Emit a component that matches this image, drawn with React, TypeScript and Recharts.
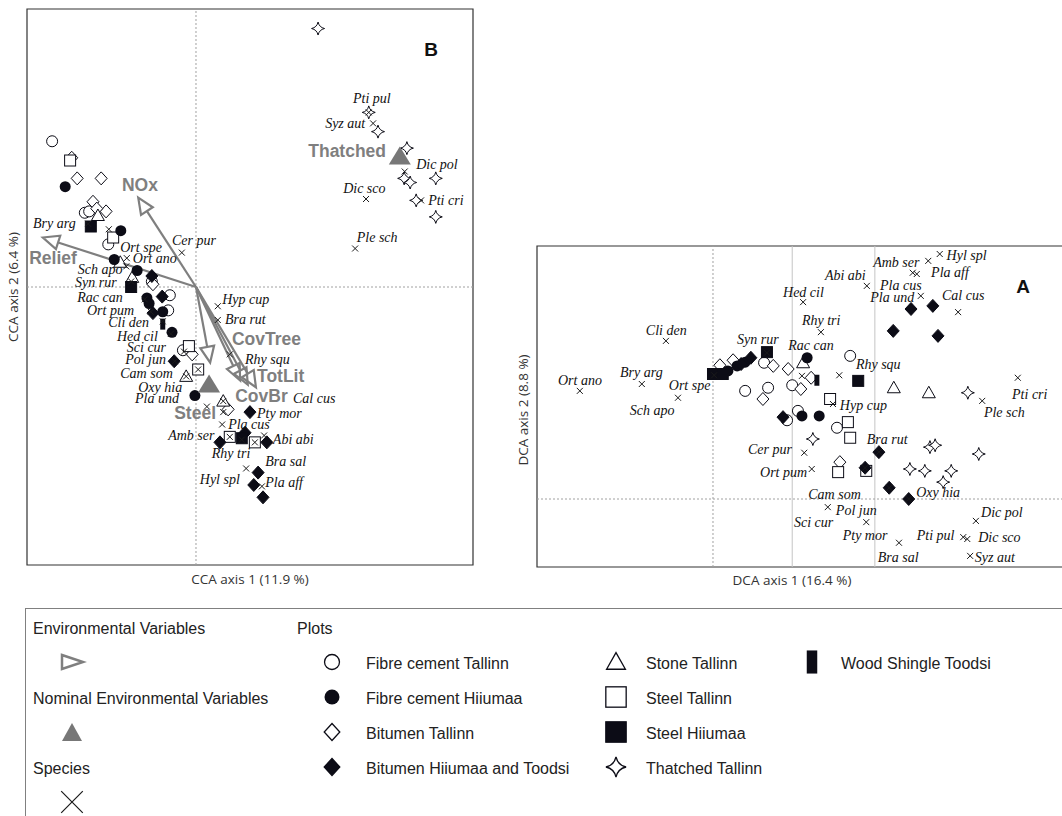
import React from "react";
import { ScatterChart, Scatter, XAxis, YAxis, ReferenceLine, ReferenceArea } from "recharts";

type Pt = [number, number];
type Sp = [string, number, number, number, number]; // name, x, y, label x, label y

const INK = "#0c0c16";
const GREY = "#7f7f7f";
const SERIF = '"Liberation Serif", "Times New Roman", serif';
const SANS = '"Liberation Sans", Arial, sans-serif';
const AXIS_FONT = '"Open Sans", "Noto Sans", sans-serif';

// ---------- B: CCA ----------
const ccaSpecies: Sp[] = [
  ["Bry arg", -1.98, 0.46, -2.99, 0.46],
  ["Ort spe", -1.6, 0.42, -1.39, 0.29],
  ["Ort ano", -1.27, 0.21, -1.16, 0.21],
  ["Cer pur", -0.26, 0.25, -0.44, 0.34],
  ["Sch apo", -1.28, 0.15, -2.17, 0.13],
  ["Syn rur", -1.19, 0.04, -2.22, 0.03],
  ["Rac can", -0.94, -0.09, -2.18, -0.08],
  ["Ort pum", -0.83, -0.18, -2.0, -0.17],
  ["Cli den", -0.61, -0.25, -1.61, -0.26],
  ["Hed cil", -0.46, -0.34, -1.45, -0.36],
  ["Sci cur", -0.22, -0.47, -1.27, -0.44],
  ["Pol jun", -0.39, -0.54, -1.3, -0.53],
  ["Cam som", 0.04, -0.6, -1.39, -0.63],
  ["Oxy hia", -0.18, -0.65, -1.06, -0.73],
  ["Pla und", 0.2, -0.87, -1.12, -0.81],
  ["Hyp cup", 0.4, -0.14, 0.48, -0.09],
  ["Bra rut", 0.4, -0.24, 0.53, -0.24],
  ["Rhy squ", 0.62, -0.49, 0.9, -0.53],
  ["Cal cus", 0.5, -0.83, 1.78, -0.81],
  ["Pty mor", 0.5, -0.91, 1.12, -0.92],
  ["Pla cus", 0.48, -1.0, 0.59, -1.0],
  ["Amb ser", 0.62, -1.09, -0.51, -1.08],
  ["Abi abi", 1.25, -1.08, 1.41, -1.11],
  ["Rhy tri", 0.84, -1.11, 0.29, -1.21],
  ["Bra sal", 1.08, -1.13, 1.27, -1.27],
  ["Hyl spl", 0.92, -1.32, 0.07, -1.4],
  ["Pla aff", 1.21, -1.45, 1.27, -1.42],
  ["Pti pul", 3.17, 1.27, 2.88, 1.37],
  ["Syz aut", 3.25, 1.19, 2.37, 1.19],
  ["Dic pol", 3.83, 0.84, 4.04, 0.89],
  ["Dic sco", 3.12, 0.64, 2.7, 0.72],
  ["Pti cri", 4.13, 0.63, 4.26, 0.63],
  ["Ple sch", 2.92, 0.28, 2.95, 0.36],
];

const ccaFibreTallinn: Pt[] = [[-2.64, 1.06], [-2.04, 0.54], [-1.96, 0.55], [-1.61, 0.31], [-0.81, 0.04], [-0.48, -0.06], [-0.51, -0.17], [-0.24, -0.46]];
const ccaFibreHiiumaa: Pt[] = [[-2.4, 0.73], [-1.38, 0.41], [-1.5, 0.2], [-1.08, 0.12], [-0.9, -0.08], [-0.86, -0.12], [-0.61, -0.18], [-0.44, -0.33], [-0.02, -0.79]];
const ccaBitumenTallinn: Pt[] = [[-2.28, 0.94], [-2.18, 0.79], [-1.74, 0.79], [-1.89, 0.62], [-1.65, 0.55], [-1.82, 0.57], [-0.79, 0.02], [-0.07, -0.49], [0.59, -0.89]];
const ccaBitumenHiiumaa: Pt[] = [[-0.81, 0.08], [-0.62, -0.07], [-0.79, -0.19], [-0.4, -0.54], [0.99, -0.91], [0.9, -1.06], [0.44, -1.13], [1.3, -1.13], [1.14, -1.35], [1.06, -1.44], [1.23, -1.53]];
const ccaStoneTallinn: Pt[] = [[-1.8, 0.52], [-1.39, 0.18], [-1.17, 0.07], [-0.18, -0.65], [0.5, -0.83]];
const ccaSteelTallinn: Pt[] = [[-2.31, 0.92], [-1.52, 0.36], [-0.13, -0.43], [0.04, -0.6], [0.62, -1.09], [1.08, -1.13]];
const ccaSteelHiiumaa: Pt[] = [[-1.93, 0.44], [-1.19, 0.0], [0.84, -1.1]];
const ccaThatchedTallinn: Pt[] = [[2.24, 1.88], [3.17, 1.27], [3.34, 1.13], [3.87, 1.01], [3.82, 0.79], [3.93, 0.76], [4.4, 0.79], [4.04, 0.63], [4.4, 0.51]];
const ccaWoodShingle: Pt[] = [[-0.61, -0.27]];

// environmental vectors: name, tip x, tip y, label x, label y
const ccaEnvVectors: Sp[] = [
  ["NOx", -1.06, 0.65, -1.36, 0.74],
  ["Relief", -2.81, 0.36, -3.06, 0.21],
  ["", 0.26, -0.55, 0, 0],
  ["CovTree", 0.81, -0.68, 0.66, -0.38],
  ["TotLit", 0.95, -0.71, 1.12, -0.65],
  ["CovBr", 1.1, -0.73, 0.72, -0.79],
];
const ccaNominal: Sp[] = [
  ["Steel", 0.24, -0.71, -0.4, -0.92],
  ["Thatched", 3.74, 0.95, 2.06, 0.99],
];

// ---------- A: DCA ----------
const dcaSpecies: Sp[] = [
  ["Cli den", -0.82, 2.53, -1.17, 2.7],
  ["Syn rur", 0.94, 2.34, 0.42, 2.56],
  ["Ort ano", -2.32, 1.73, -2.7, 1.9],
  ["Bry arg", -1.24, 1.84, -1.62, 2.02],
  ["Ort spe", 0.02, 1.98, -0.77, 1.81],
  ["Sch apo", -0.61, 1.62, -1.45, 1.42],
  ["Hyl spl", 3.95, 3.92, 4.07, 3.9],
  ["Amb ser", 3.75, 3.81, 2.79, 3.78],
  ["Pla aff", 3.55, 3.6, 3.8, 3.62],
  ["Pla cus", 3.48, 3.62, 2.91, 3.41],
  ["Abi abi", 2.68, 3.41, 1.95, 3.58],
  ["Hed cil", 1.57, 3.15, 1.22, 3.31],
  ["Pla und", 3.62, 3.25, 2.74, 3.22],
  ["Cal cus", 4.27, 2.99, 3.99, 3.26],
  ["Rhy tri", 1.88, 2.67, 1.55, 2.85],
  ["Rac can", 1.55, 1.97, 1.31, 2.46],
  ["Rhy squ", 2.2, 1.98, 2.49, 2.16],
  ["Pti cri", 5.31, 1.94, 5.21, 1.68],
  ["Ple sch", 4.69, 1.57, 4.72, 1.39],
  ["Hyp cup", 2.09, 1.52, 2.21, 1.49],
  ["Bra rut", 2.89, 0.75, 2.68, 0.96],
  ["Cer pur", 1.59, 0.74, 0.61, 0.8],
  ["Ort pum", 1.72, 0.48, 0.82, 0.42],
  ["Oxy hia", 3.41, 0.0, 3.54, 0.11],
  ["Cam som", 2.0, -0.13, 1.66, 0.08],
  ["Pol jun", 2.67, -0.37, 2.14, -0.18],
  ["Sci cur", 2.65, 0.5, 1.41, -0.37],
  ["Pty mor", 3.24, -0.7, 2.26, -0.59],
  ["Bra sal", 3.07, 0.18, 2.87, -0.93],
  ["Dic pol", 4.58, -0.35, 4.67, -0.21],
  ["Pti pul", 4.36, -0.61, 3.55, -0.58],
  ["Dic sco", 4.43, -0.64, 4.62, -0.61],
  ["Syz aut", 4.48, -0.91, 4.56, -0.93],
];

const dcaFibreTallinn: Pt[] = [[0.89, 2.18], [0.56, 1.73], [0.96, 1.78], [1.38, 1.82], [1.48, 1.41], [1.29, 1.26], [2.16, 1.14], [2.39, 2.29]];
const dcaFibreHiiumaa: Pt[] = [[0.26, 2.05], [0.42, 2.13], [0.56, 2.19], [1.64, 2.26], [1.55, 1.33], [1.85, 1.33]];
const dcaBitumenTallinn: Pt[] = [[0.12, 2.14], [0.35, 2.22], [1.05, 2.13], [1.31, 2.08], [1.71, 1.94], [1.53, 1.76], [0.87, 1.6], [2.21, 0.59]];
const dcaBitumenHiiumaa: Pt[] = [[0.49, 2.16], [0.66, 2.26], [1.22, 1.31], [3.45, 3.04], [3.83, 3.09], [3.14, 2.69], [3.92, 2.61], [2.89, 0.75], [2.65, 0.5], [3.07, 0.18], [3.41, 0.0]];
const dcaStoneTallinn: Pt[] = [[1.57, 2.18], [3.15, 1.78], [3.76, 1.7]];
const dcaSteelTallinn: Pt[] = [[2.04, 1.6], [2.35, 1.23], [2.39, 0.98], [2.18, 0.43], [2.67, 0.45]];
const dcaSteelHiiumaa: Pt[] = [[0.0, 2.0], [0.17, 2.0], [0.94, 2.35], [2.53, 1.89]];
const dcaThatchedTallinn: Pt[] = [[1.74, 0.96], [4.44, 1.7], [3.78, 0.83], [3.87, 0.86], [4.63, 0.72], [3.43, 0.48], [3.69, 0.45], [4.15, 0.45], [4.01, 0.27]];
const dcaWoodShingle: Pt[] = [[1.81, 1.9]];
const dcaGuides = [1.38, 2.82];

const plotLegend: [string, string][] = [
  ["fcT", "Fibre cement Tallinn"],
  ["fcH", "Fibre cement Hiiumaa"],
  ["bT", "Bitumen Tallinn"],
  ["bH", "Bitumen Hiiumaa and Toodsi"],
  ["sT", "Stone Tallinn"],
  ["stT", "Steel Tallinn"],
  ["stH", "Steel Hiiumaa"],
  ["thT", "Thatched Tallinn"],
  ["ws", "Wood Shingle Toodsi"],
];

function starPath(cx: number, cy: number, r: number) {
  const k = r * 0.18;
  return `M${cx},${cy - r} Q${cx + k},${cy - k} ${cx + r},${cy} Q${cx + k},${cy + k} ${cx},${cy + r} Q${cx - k},${cy + k} ${cx - r},${cy} Q${cx - k},${cy - k} ${cx},${cy - r}Z`;
}

function Mark({ kind, cx, cy, k = 1, sw = 1 }: any) {
  switch (kind) {
    case "fcT":
      return <circle cx={cx} cy={cy} r={5.5 * k} fill="#fff" stroke={INK} strokeWidth={sw} />;
    case "fcH":
      return <circle cx={cx} cy={cy} r={5.5 * k} fill={INK} />;
    case "bT":
    case "bH": {
      const w = 6 * k, h = 6.5 * k;
      return <polygon points={`${cx},${cy - h} ${cx + w},${cy} ${cx},${cy + h} ${cx - w},${cy}`} fill={kind === "bH" ? INK : "#fff"} stroke={INK} strokeWidth={sw} />;
    }
    case "sT": {
      const w = 6.5 * k;
      return <polygon points={`${cx},${cy - 6.5 * k} ${cx + w},${cy + 5 * k} ${cx - w},${cy + 5 * k}`} fill="#fff" stroke={INK} strokeWidth={sw} />;
    }
    case "stT":
    case "stH": {
      const s = 5.5 * k;
      return <rect x={cx - s} y={cy - s} width={2 * s} height={2 * s} fill={kind === "stH" ? INK : "#fff"} stroke={INK} strokeWidth={sw} />;
    }
    case "thT":
      return <path d={starPath(cx, cy, 6.5 * k)} fill="#fff" stroke={INK} strokeWidth={sw} />;
    case "ws":
      return <rect x={cx - 2.5 * k} y={cy - 5.5 * k} width={5 * k} height={11 * k} fill={INK} />;
    case "sp": {
      const s = 3 * k;
      return <path d={`M${cx - s},${cy - s}L${cx + s},${cy + s}M${cx - s},${cy + s}L${cx + s},${cy - s}`} stroke="#1a1a1a" strokeWidth={sw} />;
    }
    default:
      return null;
  }
}

function Arrow(p: any) {
  const { x1, y1, x2, y2 } = p;
  const a = Math.atan2(y2 - y1, x2 - x1);
  const L = 16, W = 7;
  const bx = x2 - L * Math.cos(a), by = y2 - L * Math.sin(a);
  const nx = -Math.sin(a), ny = Math.cos(a);
  return (
    <g>
      <line x1={x1} y1={y1} x2={bx} y2={by} stroke={GREY} strokeWidth={2.2} />
      <polygon points={`${x2},${y2} ${bx + nx * W},${by + ny * W} ${bx - nx * W},${by - ny * W}`} fill="none" stroke={GREY} strokeWidth={2.2} />
    </g>
  );
}

const toPts = (a: Pt[]) => a.map(([x, y]) => ({ x, y }));

function Ordination(props: any) {
  const { width, height, margin, xDomain, yDomain, xTicks, yTicks, species, plots, arrows = [], nominal = [], guides = [] } = props;
  const spMarks = species.map((s: Sp) => ({ name: s[0], x: s[1], y: s[2] }));
  const spLabels = species.map((s: Sp) => ({ name: s[0], x: s[3], y: s[4] }));
  const envLabels = [...arrows.filter((a: Sp) => a[0]), ...nominal].map((a: Sp) => ({ name: a[0], x: a[3], y: a[4] }));
  const nomPts = nominal.map((n: Sp) => ({ name: n[0], x: n[1], y: n[2] }));
  const axisStyle = { stroke: "#333", strokeWidth: 1.3 };
  const nameOf = (p: any) => (p.payload && p.payload.name) || p.name;
  return (
    <ScatterChart width={width} height={height} margin={margin}>
      <XAxis type="number" dataKey="x" domain={xDomain} ticks={xTicks} allowDataOverflow interval={0} tick={false} tickSize={5} height={0} axisLine={axisStyle} tickLine={axisStyle} />
      <YAxis type="number" dataKey="y" domain={yDomain} ticks={yTicks} allowDataOverflow interval={0} tick={false} tickSize={5} width={0} axisLine={axisStyle} tickLine={axisStyle} />
      <ReferenceArea x1={xDomain[0]} x2={xDomain[1]} y1={yDomain[0]} y2={yDomain[1]} fill="none" fillOpacity={0} stroke="#333" strokeWidth={1.2} ifOverflow="visible" />
      {guides.map((g: number) => (
        <ReferenceLine key={g} x={g} stroke="#c4c4c4" strokeWidth={1} />
      ))}
      <ReferenceLine x={0} stroke="#a0a0a0" strokeDasharray="2 2" />
      <ReferenceLine y={0} stroke="#a0a0a0" strokeDasharray="2 2" />
      {plots.map((s: any) => (
        <Scatter key={s.kind} data={toPts(s.data)} isAnimationActive={false} shape={(p: any) => <Mark kind={s.kind} cx={p.cx} cy={p.cy} />} />
      ))}
      <Scatter data={spMarks} isAnimationActive={false} shape={(p: any) => <Mark kind="sp" cx={p.cx} cy={p.cy} />} />
      {arrows.map((a: Sp, i: number) => (
        <ReferenceLine key={"arr" + i} segment={[{ x: 0, y: 0 }, { x: a[1], y: a[2] }]} ifOverflow="visible" stroke={GREY} shape={(p: any) => <Arrow {...p} />} />
      ))}
      <Scatter
        data={nomPts}
        isAnimationActive={false}
        shape={(p: any) => <polygon points={`${p.cx},${p.cy - 10} ${p.cx + 11},${p.cy + 8} ${p.cx - 11},${p.cy + 8}`} fill="#777" />}
      />
      <Scatter
        data={spLabels}
        isAnimationActive={false}
        shape={(p: any) => (
          <text x={p.cx} y={p.cy} dominantBaseline="central" fontFamily={SERIF} fontStyle="italic" fontSize={14} fill="#111">
            {nameOf(p)}
          </text>
        )}
      />
      <Scatter
        data={envLabels}
        isAnimationActive={false}
        shape={(p: any) => (
          <text x={p.cx} y={p.cy} dominantBaseline="central" fontFamily={SANS} fontWeight="bold" fontSize={17.5} fill={GREY}>
            {nameOf(p)}
          </text>
        )}
      />
    </ScatterChart>
  );
}

function AxisTitle({ text, cx, cy, rotate = false }: any) {
  const w = 200, h = 18;
  return (
    <div
      style={{
        position: "absolute",
        left: cx - w / 2,
        top: cy - h / 2,
        width: w,
        height: h,
        lineHeight: h + "px",
        textAlign: "center",
        fontFamily: AXIS_FONT,
        fontSize: 13.5,
        color: "#333",
        transform: rotate ? "rotate(-90deg)" : undefined,
      }}
    >
      {text}
    </div>
  );
}

function PanelLetter({ text, cx, cy }: any) {
  return (
    <div style={{ position: "absolute", left: cx - 15, top: cy - 12, width: 30, height: 24, lineHeight: "24px", textAlign: "center", fontFamily: SANS, fontWeight: "bold", fontSize: 19, color: "#111" }}>
      {text}
    </div>
  );
}

const legendK: Record<string, number> = { fcT: 1.36, fcH: 1.36, bT: 1.3, bH: 1.3, sT: 1.45, stT: 1.85, stH: 1.85, thT: 1.55, ws: 2.1 };

function LegendBox() {
  const colX = [332, 616, 812];
  const rowY = [62, 97, 132, 167];
  const txt = { fontFamily: SANS, fontSize: 16, fill: "#222" };
  return (
    <svg width={1062} height={216} style={{ position: "absolute", left: 0, top: 600 }}>
      <rect x={25.5} y={8.5} width={1100} height={300} fill="none" stroke="#808080" strokeWidth={1} />
      <text x={33} y={28} dominantBaseline="central" {...txt}>Environmental Variables</text>
      <polygon points="62,55 83,62 62,69" fill="none" stroke={GREY} strokeWidth={2.5} />
      <text x={33} y={98} dominantBaseline="central" {...txt}>Nominal Environmental Variables</text>
      <polygon points="72,123 82,141 62,141" fill="#777" />
      <text x={33} y={168} dominantBaseline="central" {...txt}>Species</text>
      <Mark kind="sp" cx={72} cy={202} k={3.6} sw={1.2} />
      <text x={297} y={28} dominantBaseline="central" {...txt}>Plots</text>
      {plotLegend.map(([kind, label], i) => {
        const c = Math.floor(i / 4), r = i % 4;
        return (
          <g key={kind}>
            <Mark kind={kind} cx={colX[c]} cy={rowY[r]} k={legendK[kind]} sw={1.3} />
            <text x={colX[c] + (c === 2 ? 29 : c === 1 ? 30 : 34)} y={rowY[r] + 1} dominantBaseline="central" {...txt}>
              {label}
            </text>
          </g>
        );
      })}
    </svg>
  );
}

export default function App() {
  return (
    <div style={{ position: "absolute", left: 0, top: 0, width: 1062, height: 816, overflow: "hidden", background: "#fff" }}>
      <div style={{ position: "absolute", left: 0, top: 0 }}>
        <Ordination
          width={480}
          height={600}
          margin={{ top: 9, right: 7, bottom: 35, left: 27 }}
          xDomain={[-3.101, 5.083]}
          yDomain={[-2.022, 2.022]}
          xTicks={[-3, -2, -1, 0, 1, 2, 3, 4, 5]}
          yTicks={[-2, -1, 0, 1, 2]}
          species={ccaSpecies}
          plots={[
            { kind: "fcT", data: ccaFibreTallinn },
            { kind: "bT", data: ccaBitumenTallinn },
            { kind: "sT", data: ccaStoneTallinn },
            { kind: "stT", data: ccaSteelTallinn },
            { kind: "thT", data: ccaThatchedTallinn },
            { kind: "fcH", data: ccaFibreHiiumaa },
            { kind: "bH", data: ccaBitumenHiiumaa },
            { kind: "stH", data: ccaSteelHiiumaa },
            { kind: "ws", data: ccaWoodShingle },
          ]}
          arrows={ccaEnvVectors}
          nominal={ccaNominal}
        />
      </div>
      <div style={{ position: "absolute", left: 500, top: 230 }}>
        <Ordination
          width={564}
          height={370}
          margin={{ top: 16, right: 0, bottom: 33, left: 37 }}
          xDomain={[-3.066, 6.115]}
          yDomain={[-1.088, 4.048]}
          xTicks={[-3, -2, -1, 0, 1, 2, 3, 4, 5, 6]}
          yTicks={[-1, 0, 1, 2, 3, 4]}
          species={dcaSpecies}
          plots={[
            { kind: "fcT", data: dcaFibreTallinn },
            { kind: "bT", data: dcaBitumenTallinn },
            { kind: "sT", data: dcaStoneTallinn },
            { kind: "stT", data: dcaSteelTallinn },
            { kind: "thT", data: dcaThatchedTallinn },
            { kind: "fcH", data: dcaFibreHiiumaa },
            { kind: "bH", data: dcaBitumenHiiumaa },
            { kind: "stH", data: dcaSteelHiiumaa },
            { kind: "ws", data: dcaWoodShingle },
          ]}
          guides={dcaGuides}
        />
      </div>
      <AxisTitle text="CCA axis 1 (11.9 %)" cx={250} cy={579} />
      <AxisTitle text="CCA axis 2 (6.4 %)" cx={13} cy={287} rotate />
      <AxisTitle text="DCA axis 1 (16.4 %)" cx={792} cy={580} />
      <AxisTitle text="DCA axis 2 (8.8 %)" cx={523} cy={410} rotate />
      <PanelLetter text="B" cx={431} cy={50} />
      <PanelLetter text="A" cx={1023} cy={287} />
      <LegendBox />
    </div>
  );
}
